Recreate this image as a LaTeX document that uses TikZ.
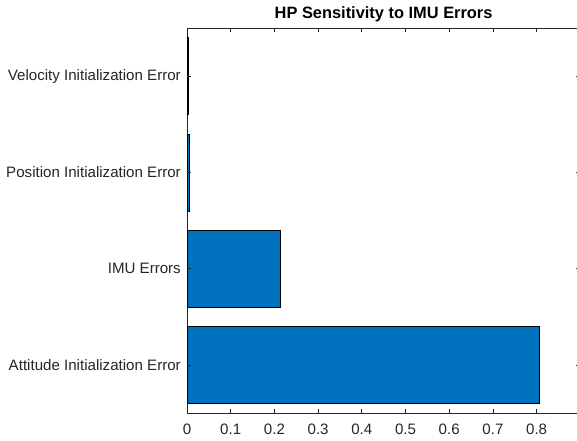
\documentclass[tikz,border=0pt]{standalone}
\usepackage{fontspec}
\setmainfont{Liberation Sans}
\usetikzlibrary{positioning}
\definecolor{barblue}{RGB}{0,114,189}
\definecolor{axisgray}{RGB}{38,38,38}
\tikzset{
  bar/.style={draw=black, fill=barblue, line width=0.7pt},
  axisline/.style={draw=axisgray, line width=0.7pt},
  ticklabel/.style={text=axisgray, font=\fontsize{15.1}{17}\selectfont, inner sep=0pt, anchor=center},
  catlabel/.style={text=axisgray, font=\fontsize{15.1}{17}\selectfont, inner sep=0pt, anchor=east},
  plottitle/.style={text=black, font=\bfseries\fontsize{16.4}{19}\selectfont, inner sep=0pt}
}

\begin{document}
\begin{tikzpicture}[x=1pt, y=-1pt]
\clip (0,0) rectangle (577,440);
\fill[white] (0,0) rectangle (577,440);

% axes box: x from 0 to 0.9, categories 0.5 .. 4.5
\coordinate (origin) at (187,413);
\coordinate (topright) at (580.3,28);
\draw[axisline] (origin) rectangle (topright);

% x ticks
\foreach \v/\t in {0/0,1/0.1,2/0.2,3/0.3,4/0.4,5/0.5,6/0.6,7/0.7,8/0.8} {
  \draw[axisline] (187+43.7*\v,413) -- ++(0,-4);
  \draw[axisline] (187+43.7*\v,28) -- ++(0,4);
  \node[ticklabel] (xt\v) at (187+43.7*\v,429) {\t};
}

% bars (value, category index from bottom)
\draw[bar] (187,326.4) rectangle (539.2,403.4);
\draw[bar] (187,230.1) rectangle (280.5,307.1);
\draw[bar] (187,133.9) rectangle (189.2,210.9);
\draw[bar] (187,37.6) rectangle (188.3,114.6);

% y ticks and category labels
\foreach \k/\name/\lab in {1/att/Attitude Initialization Error,2/imu/IMU Errors,3/pos/Position Initialization Error,4/vel/Velocity Initialization Error} {
  \draw[axisline] (187,413-96.25*\k+48.1) -- ++(4,0);
  \draw[axisline] (580.3,413-96.25*\k+48.1) -- ++(-4,0);
  \node[catlabel] (\name) at (181,413-96.25*\k+48.1) {\lab};
}

\node[plottitle] (title) at (383.6,14) {HP Sensitivity to IMU Errors};
\end{tikzpicture}
\end{document}
